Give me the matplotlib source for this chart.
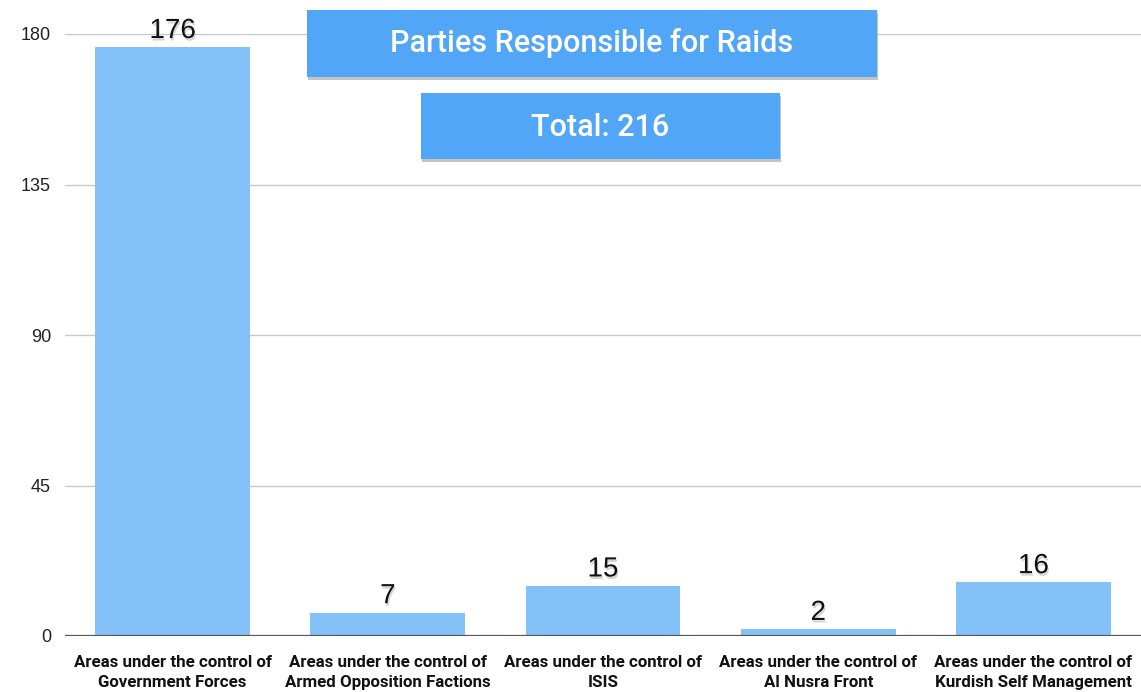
import matplotlib.pyplot as plt
import matplotlib.patheffects as pe
from matplotlib.patches import Rectangle

# chart data
categories = ["Areas under the control of\nGovernment Forces",
              "Areas under the control of\nArmed Opposition Factions",
              "Areas under the control of\nISIS",
              "Areas under the control of\nAl Nusra Front",
              "Areas under the control of\nKurdish Self Management"]
raids = [176, 7, 15, 2, 16]
yticks = [0, 45, 90, 135, 180]
title = "Parties Responsible for Raids"
subtitle = "Total: 216"

W, H = 1141, 692
fig = plt.figure(figsize=(W / 100, H / 100), dpi=100)
ax = fig.add_axes([65 / W, 1 - 636 / H, 1 - 65 / W, (636 - 34) / H])

x = range(len(categories))
ax.bar(x, raids, width=0.72, color="#85c1f9", zorder=2)

# value labels with soft shadow
for i, v in zip(x, raids):
    ax.text(i, v + 1, str(v), ha="center", va="bottom", fontsize=20,
            family="Liberation Sans", color="#111111", clip_on=False, zorder=5,
            path_effects=[pe.withSimplePatchShadow(offset=(0.8, -1.8), shadow_rgbFace="#aaaaaa", alpha=0.5)])

ax.set_xlim(-0.5, len(categories) - 0.5)
ax.set_ylim(0, 180)
ax.set_yticks(yticks)
ax.set_yticklabels([str(t) for t in yticks], fontsize=13, family="Liberation Sans", color="#222222")
ax.set_xticks(list(x))
ax.set_xticklabels(categories, fontsize=12.2, fontweight="bold",
                   family=["Liberation Sans Narrow", "Roboto"], color="#111111", linespacing=1.4)
ax.tick_params(length=0, pad=14)
ax.tick_params(axis="y", pad=10)
for s in ax.spines.values():
    s.set_visible(False)
ax.yaxis.grid(True, color="#c8c8c8", linewidth=1, zorder=0)
ax.set_axisbelow(True)
ax.axhline(0, color="#555555", linewidth=1.6, zorder=3)

# title boxes
def box(x0, y0, x1, y1, label, size, dy=0):
    r = Rectangle((x0 / W, 1 - y1 / H), (x1 - x0) / W, (y1 - y0) / H,
                  transform=fig.transFigure, facecolor="#52a6f8", edgecolor="none", zorder=10,
                  path_effects=[pe.withSimplePatchShadow(offset=(0.5, -2.5), shadow_rgbFace="#555555", alpha=0.35)])
    fig.patches.append(r)
    fig.text((x0 + x1) / 2 / W, 1 - ((y0 + y1) / 2 + dy) / H, label, ha="center", va="center",
             fontsize=size, color="white", fontweight="medium",
             family=["Roboto", "DejaVu Sans"], zorder=11)

box(307, 10, 877, 77, title, 22, dy=-1)
box(421, 93, 780, 159, subtitle, 22, dy=2)

fig.savefig("out.png", dpi=100)
